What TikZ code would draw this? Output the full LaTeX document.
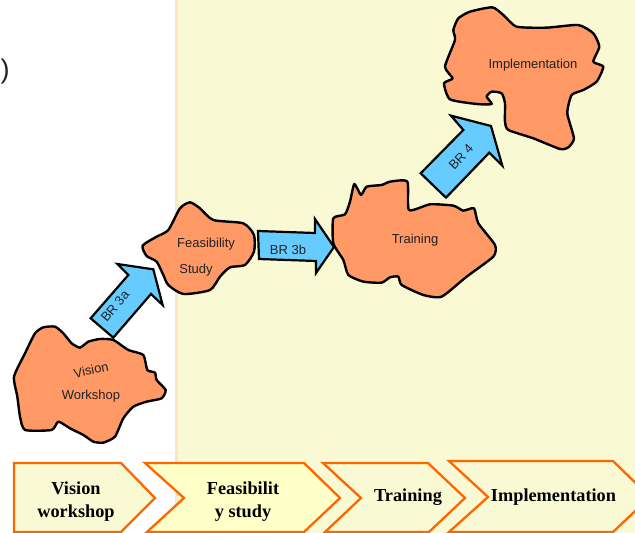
\documentclass[tikz,border=0pt]{standalone}
\usepackage{fontspec}
\setmainfont{Liberation Serif}
\setsansfont{Liberation Sans}
\definecolor{paleyellow}{HTML}{F9FAD4}
\definecolor{brightyellow}{HTML}{FFFFC8}
\definecolor{edgepeach}{HTML}{FBE6C8}
\definecolor{blobfill}{HTML}{FF9966}
\definecolor{arrowblue}{HTML}{66CCFF}
\definecolor{chevedge}{HTML}{FF6600}
\definecolor{inktext}{HTML}{222222}
\tikzset{
  blob/.style={draw=black,fill=blobfill,line width=2.4pt,line join=round},
  blockarrow/.style={draw=black,fill=arrowblue,line width=2.2pt,line join=miter},
  blobtext/.style={font=\sffamily\fontsize{13}{15}\selectfont,text=inktext,inner sep=0pt},
  chevron/.style={draw=chevedge,line width=2.3pt,line join=miter},
  chevtext/.style={font=\rmfamily\bfseries\fontsize{18.3}{23}\selectfont,text=black,align=center,inner sep=0pt},
  zoomA/.style={shift={(0,180)},x=0.3333pt,y=-0.3333pt},
  zoomB/.style={shift={(320,0)},x=0.3333pt,y=-0.3333pt}
}
\begin{document}
\begin{tikzpicture}[x=1pt,y=-1pt]
\useasboundingbox (0,0) rectangle (635,533);
\clip (0,0) rectangle (635,533);
\fill[white] (0,0) rectangle (635,533);
\fill[paleyellow] (176,0) rectangle (635,533);
\fill[edgepeach] (175,0) rectangle (178,533);

\node[font=\sffamily\fontsize{27}{29}\selectfont,text=inktext,inner sep=0pt] (paren) at (5,72) {)};

% Vision workshop and Feasibility Study outlines, with the first arrow
\begin{scope}[zoomA]
\draw[blob] plot[smooth cycle,tension=0.35] coordinates {(42,590)(75,520)(105,460)(130,442)(165,440)(190,460)(215,490)(240,503)(265,485)(300,477)(340,480)(385,510)(430,525)(442,570)(465,578)(470,600)(497,630)(485,655)(440,665)(400,680)(370,715)(345,770)(310,788)(280,785)(250,765)(210,745)(175,725)(155,750)(75,750)(60,710)(52,650)};
\draw[blob] plot[smooth cycle,tension=0.4] coordinates {(428,197)(470,170)(505,150)(540,85)(570,67)(600,85)(640,120)(730,130)(762,165)(762,215)(735,255)(690,262)(660,290)(630,330)(550,342)(505,315)(490,285)(470,245)(440,228)};
\draw[blockarrow] (272,415)--(385,285)--(352,252)--(460,268)--(488,375)--(453,342)--(340,473)--cycle;
\end{scope}
\begin{scope}[zoomB]
\draw[blob] plot[smooth cycle,tension=0.35] coordinates {(40,655)(75,643)(90,605)(103,552)(123,585)(140,560)(185,555)(210,545)(262,545)(267,630)(330,613)(400,617)(430,632)(462,625)(475,670)(525,735)(520,770)(440,830)(365,890)(310,885)(245,855)(235,830)(210,832)(185,848)(130,845)(85,825)(70,780)(40,730)};
\draw[blob] plot[smooth cycle,tension=0.35] coordinates {(400,90)(415,55)(450,35)(517,22)(550,45)(590,80)(680,83)(775,75)(820,100)(838,140)(820,185)(850,200)(830,245)(790,270)(755,285)(742,340)(762,415)(745,442)(720,447)(640,415)(565,390)(555,365)(555,310)(545,280)(515,275)(500,290)(515,312)(470,312)(390,298)(372,250)(398,235)(375,200)(405,120)};
\draw[blockarrow] (302,520)--(430,390)--(393,347)--(513,378)--(547,497)--(508,458)--(378,593)--cycle;
\end{scope}
\draw[blockarrow] (258,231)--(315,233)--(315,219)--(334,247)--(316,273)--(316,261)--(259,259)--cycle;

\node[blobtext,rotate=12] (visionA) at (91,370) {Vision};
\node[blobtext] (visionB) at (91,396) {Workshop};
\node[blobtext] (feasA) at (206,244) {Feasibility};
\node[blobtext] (feasB) at (196,270) {Study};
\node[blobtext] (training) at (415,240.5) {Training};
\node[blobtext] (impl) at (533,65) {Implementation};
\node[blobtext,rotate=50] (br3a) at (115,306) {BR 3a};
\node[blobtext] (br3b) at (288,250) {BR 3b};
\node[blobtext,rotate=47] (br4) at (461,157) {BR 4};

% Phase chevrons
\draw[chevron,fill=paleyellow] (14,463)--(121,463)--(155,498)--(121,532)--(14,532)--cycle;
\draw[chevron,fill=brightyellow] (145,463)--(304,463)--(340,498)--(304,532)--(147,532)--(184,498)--cycle;
\draw[chevron,fill=paleyellow] (323,463)--(428,463)--(465,498)--(429,532)--(325,532)--(361,498)--cycle;
\draw[chevron,fill=paleyellow] (449,461)--(613,461)--(650,497)--(613,532)--(449,532)--(488,497)--cycle;
\node[chevtext] (c1) at (76,501.5) {Vision\\workshop};
\node[chevtext] (c2) at (243,501.5) {Feasibilit\\y study};
\node[chevtext] (c3) at (408,497.5) {Training};
\node[chevtext] (c4) at (553.5,497.5) {Implementation};
\end{tikzpicture}
\end{document}
